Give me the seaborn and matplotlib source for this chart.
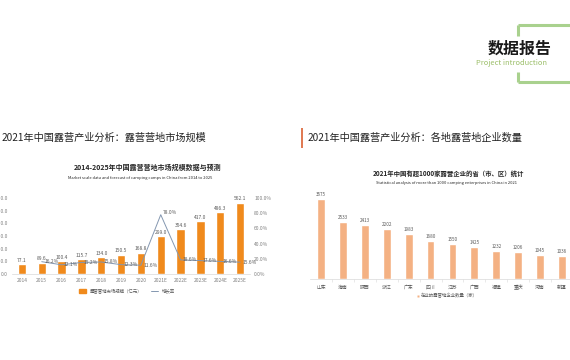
import numpy as np
import pandas as pd
import matplotlib
matplotlib.use("Agg")
import matplotlib.pyplot as plt
import seaborn as sns
from matplotlib.patches import Rectangle
from matplotlib.lines import Line2D

# Data
years = ['2014', '2015', '2016', '2017', '2018', '2019', '2020',
         '2021E', '2022E', '2023E', '2024E', '2025E']
market_size = [77.1, 89.6, 100.4, 115.7, 134.0, 150.5, 168.8,
               299.0, 354.6, 417.0, 486.3, 562.1]
growth_rate = [16.2, 12.1, 15.2, 15.8, 12.3, 11.6, 78.0,
               18.6, 17.6, 16.6, 15.6]  # 2015 .. 2025E, in %

provinces = ['山东', '海南', '陕西', '浙江', '广东', '四川',
             '江苏', '广西', '福建', '重庆', '河南', '新疆']
companies = [3575, 2533, 2413, 2202, 1983, 1680,
             1550, 1425, 1232, 1206, 1045, 1036]

sns.set_theme(style='white')
plt.rcParams['font.family'] = ['Noto Sans CJK SC', 'DejaVu Sans']

W, H = 570, 360
fig = plt.figure(figsize=(W / 100, H / 100), dpi=100)
fig.patch.set_facecolor('white')


def px(x, y):
    return x / W, 1 - y / H


def rect(l, t, r, b):
    return [l / W, 1 - b / H, (r - l) / W, (b - t) / H]


bar_orange = '#F08A1C'
bar_light = '#F4B183'
line_col = '#8497B0'
green = '#A9D18E'
txt_gray = '#7F7F7F'

# ---- page decoration ----
fig.text(*px(520, 49), '数据报告', fontsize=11.5, fontweight='bold',
         ha='center', va='center', color='#1A1A1A')
fig.text(*px(511, 63), 'Project introduction', fontsize=5.4,
         ha='center', va='center', color='#9CBF6A')
for seg in [((518, 25), (575, 25)), ((518, 25), (518, 36)),
            ((518, 72), (518, 82)), ((518, 82), (575, 82))]:
    (x0, y0), (x1, y1) = seg
    fig.add_artist(Line2D([x0 / W, x1 / W], [1 - y0 / H, 1 - y1 / H],
                          color=green, lw=2.2, solid_capstyle='butt'))

fig.text(*px(2, 138), '2021年中国露营产业分析：露营营地市场规模', fontsize=7.3,
         ha='left', va='center', color='#222222')
fig.add_artist(Rectangle(px(301, 148), 2 / W, 20 / H, transform=fig.transFigure,
                         color='#E07B54', lw=0))
fig.text(*px(308, 138), '2021年中国露营产业分析：各地露营地企业数量', fontsize=7.3,
         ha='left', va='center', color='#222222')

# ---- left chart ----
ax = fig.add_axes(rect(12, 198, 250, 274))
df_left = pd.DataFrame({'year': years, 'size': market_size})
sns.barplot(data=df_left, x='year', y='size', color=bar_orange,
            width=0.42, ax=ax, saturation=1)
ax.set_xlim(-0.5, len(years) - 0.5)
ax.set_ylim(0, 600)
ax.set_yticks(np.arange(0, 601, 100))
ax.set_yticklabels([f'{v:.1f}' for v in np.arange(0, 601, 100)])
ax.set_xlabel('')
ax.set_ylabel('')
ax.tick_params(axis='both', labelsize=3.5, colors=txt_gray, length=0, pad=3)
for s in ['top', 'right', 'left']:
    ax.spines[s].set_visible(False)
ax.spines['bottom'].set_color('#D9D9D9')
ax.spines['bottom'].set_linewidth(0.5)
for i, v in enumerate(market_size):
    ax.text(i, v + 12, f'{v:.1f}', ha='center', va='bottom',
            fontsize=3.5, color='#595959')

ax2 = ax.twinx()
df_line = pd.DataFrame({'pos': np.arange(1, len(years)),
                        'rate': np.array(growth_rate) / 100})
sns.lineplot(data=df_line, x='pos', y='rate', color=line_col, lw=0.7, ax=ax2)
ax2.set_ylim(0, 1)
ax2.set_yticks(np.arange(0, 1.01, 0.2))
ax2.set_yticklabels([f'{v * 100:.1f}%' for v in np.arange(0, 1.01, 0.2)])
ax2.set_ylabel('')
ax2.tick_params(axis='y', labelsize=3.5, colors=txt_gray, length=0, pad=3)
for s in ax2.spines.values():
    s.set_visible(False)
for p, r in zip(df_line['pos'], df_line['rate']):
    dy = 0.03 if r > 0.5 else 0
    ax2.text(p + 0.12, r + dy, f'{r * 100:.1f}%', ha='left', va='center',
             fontsize=3.5, color='#595959')

fig.text(*px(148, 167), '2014-2025年中国露营营地市场规模数据与预测',
         fontsize=5, fontweight='bold', ha='center', va='center', color='#262626')
fig.text(*px(140, 178),
         'Market scale data and forecast of camping camps in China from 2014 to 2025',
         fontsize=2.9, ha='center', va='center', color='#262626')

h1 = Rectangle((0, 0), 1, 1, color=bar_orange)
h2 = Line2D([0], [0], color=line_col, lw=0.7)
fig.legend([h1, h2], ['露营营地市场规模（亿元）', '增长率'], loc='center',
           bbox_to_anchor=px(127, 291), ncol=2, frameon=False, fontsize=3.2,
           handlelength=1.6, handleheight=0.8, columnspacing=2,
           labelcolor='#595959')

# ---- right chart ----
bx = fig.add_axes(rect(310, 189, 573, 279))
df_right = pd.DataFrame({'province': provinces, 'count': companies})
sns.barplot(data=df_right, x='province', y='count', color=bar_light,
            width=0.36, ax=bx, saturation=1)
bx.set_xlim(-0.5, len(provinces) - 0.5)
bx.set_ylim(0, 4000)
bx.set_yticks([])
bx.set_xlabel('')
bx.set_ylabel('')
bx.tick_params(axis='x', labelsize=3.5, colors='#595959', length=0, pad=4)
bx.set_xticks(np.arange(len(provinces)) + 0.5, minor=True)
bx.tick_params(axis='x', which='minor', length=2, width=0.4, color='#D9D9D9',
               bottom=True)
for s in ['top', 'right', 'left']:
    bx.spines[s].set_visible(False)
bx.spines['bottom'].set_color('#D9D9D9')
bx.spines['bottom'].set_linewidth(0.5)
for i, v in enumerate(companies):
    bx.text(i, v + 90, str(v), ha='center', va='bottom',
            fontsize=3.3, color='#595959')

fig.text(*px(448, 173), '2021年中国有超1000家露营企业的省（市、区）统计',
         fontsize=4.6, fontweight='bold', ha='center', va='center', color='#262626')
fig.text(*px(447, 183),
         'Statistical analysis of more than 1000 camping enterprises in China in 2021',
         fontsize=2.9, ha='center', va='center', color='#262626')

h3 = Line2D([0], [0], marker='s', color='none', markerfacecolor=bar_light,
            markeredgecolor='none', markersize=2)
fig.legend([h3], ['在业的露营地企业数量（家）'], loc='center',
           bbox_to_anchor=px(447, 296), frameon=False, fontsize=3.2,
           handlelength=0.6, handletextpad=0.3, labelcolor='#595959')

fig.savefig('out.png', dpi=100, facecolor='white')
